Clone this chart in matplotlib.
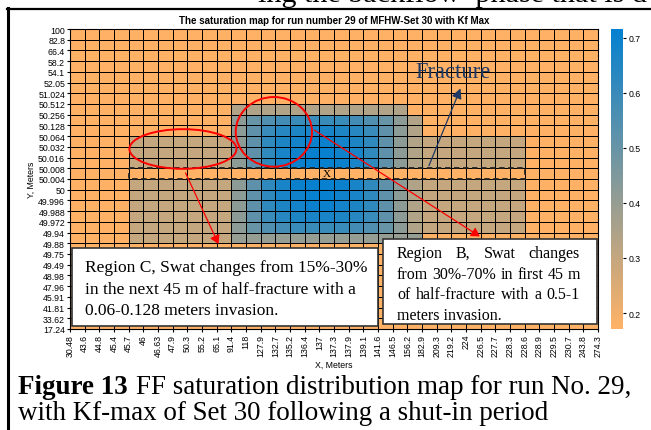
import numpy as np
import matplotlib.pyplot as plt
from matplotlib.colors import LinearSegmentedColormap
from matplotlib.patches import Ellipse, Rectangle, FancyArrowPatch

W, H = 651, 431

# grid edge labels (cell boundaries)
x_edges = ["30.48", "43.6", "44.8", "45.4", "45.7", "46", "46.63", "47.9", "50.3", "55.2",
           "65.1", "91.4", "118", "127.9", "132.7", "135.2", "136.4", "137", "137.3", "137.9",
           "139.1", "141.6", "146.5", "156.2", "182.9", "209.3", "219.2", "224", "226.5",
           "227.7", "228.3", "228.6", "228.9", "229.5", "230.7", "243.8", "274.3"]
y_edges = ["100", "82.8", "66.4", "58.2", "54.1", "52.05", "51.024", "50.512", "50.256",
           "50.128", "50.064", "50.032", "50.016", "50.008", "50.004", "50", "49.996",
           "49.988", "49.972", "49.94", "49.88", "49.75", "49.49", "48.98", "47.96", "45.91",
           "41.81", "33.62", "17.24"]

# water saturation per cell, top row first (28 rows x 36 columns)
b = .17
sw = [
    [b]*36,
    [b]*36,
    [b]*36,
    [b]*36,
    [b]*36,
    [b]*36,
    [b]*36,
    [b]*11 + [.34]*12 + [b]*13,
    [b]*11 + [.42, .50, .55, .58, .60, .60, .60, .60, .58, .55, .50, .42, .34] + [b]*12,
    [b]*11 + [.42, .52, .60, .64, .66, .67, .67, .66, .64, .60, .52, .42, .34] + [b]*12,
    [b]*4 + [.30]*7 + [.42, .52, .62, .66, .68, .70, .70, .68, .66, .62, .52, .42, .34] + [.30]*7 + [b]*5,
    [b]*4 + [.30]*7 + [.42, .52, .62, .67, .69, .71, .71, .69, .67, .62, .52, .42, .34] + [.30]*7 + [b]*5,
    [b]*4 + [.30]*7 + [.42, .52, .62, .67, .70, .71, .71, .70, .67, .62, .52, .42, .34] + [.30]*7 + [b]*5,
    [b]*36,
    [b]*4 + [.30]*7 + [.42, .52, .62, .67, .70, .71, .71, .70, .67, .62, .52, .42, .34] + [.30]*7 + [b]*5,
    [b]*4 + [.30]*7 + [.42, .52, .62, .67, .69, .71, .71, .69, .67, .62, .52, .42, .34] + [.30]*7 + [b]*5,
    [b]*4 + [.30]*7 + [.42, .52, .62, .66, .68, .70, .70, .68, .66, .62, .52, .42, .34] + [.30]*7 + [b]*5,
    [b]*4 + [.30]*7 + [.42, .52, .60, .64, .66, .67, .67, .66, .64, .60, .52, .42, .34] + [.30]*7 + [b]*5,
    [b]*4 + [.30]*7 + [.42, .50, .55, .58, .60, .60, .60, .60, .58, .55, .50, .42, .34] + [.30]*7 + [b]*5,
    [b]*4 + [.30]*7 + [.40]*13 + [b]*12,
    [b]*36,
    [b]*36,
    [b]*36,
    [b]*36,
    [b]*36,
    [b]*36,
    [b]*36,
    [b]*36,
]
sw = np.array(sw)

cmap = LinearSegmentedColormap.from_list("sat", ["#FFB266", "#0480D0"])

fig = plt.figure(figsize=(W/100, H/100), dpi=100)
plt.rcParams['font.family'] = ['Liberation Sans']
renderer = fig.canvas.get_renderer()

def fx(x): return x/W
def fy(y): return 1 - y/H

def fitted(text, x0, x1, y, **kw):
    # scale the font so the text runs from x0 to x1 (pixels)
    t = fig.text(fx(x0), fy(y), text, fontsize=10, **kw)
    w = t.get_window_extent(renderer).width
    t.set_fontsize(10 * (x1 - x0) / w)
    return t

ax = fig.add_axes([fx(70), fy(330), 528/W, 300/H])
mesh = ax.pcolormesh(np.arange(37), np.arange(29), sw, cmap=cmap, vmin=0.171, vmax=0.716,
                     edgecolors='k', linewidth=0.6)
ax.set_xlim(0, 36)
ax.set_ylim(28, 0)
ax.set_xticks(np.arange(37))
ax.set_xticklabels(x_edges, rotation=90, fontsize=6.3)
ax.set_yticks(np.arange(29))
ax.set_yticklabels(y_edges, fontsize=6.3)
ax.tick_params(length=2, pad=1.5)
ax.set_xlabel("X, Meters", fontsize=6.3, labelpad=3)
ax.set_ylabel("Y, Meters", fontsize=6.3, labelpad=2)
ax.set_title("The saturation map for run number 29 of MFHW-Set 30 with Kf Max",
             fontsize=7, fontweight='bold', pad=4)

cax = fig.add_axes([fx(611), fy(330), 12/W, 300/H])
cb = fig.colorbar(mesh, cax=cax)
cb.set_ticks([0.2, 0.3, 0.4, 0.5, 0.6, 0.7])
cb.ax.tick_params(labelsize=6.3, length=2, pad=2)
cb.outline.set_visible(False)

# fracture trace
ax.add_patch(Rectangle((4, 13), 27, 1, fill=False, ls=(0, (3, 2)), lw=1.3, ec='#222222'))
ax.text(17.5, 13.5, "X", ha='center', va='center', fontsize=8, family='Liberation Serif')

# regions of interest
ax.add_patch(Ellipse((7.7, 11.2), 7.3, 3.7, fill=False, ec='red', lw=1.4, clip_on=False))
ax.add_patch(Ellipse((13.9, 9.6), 5.2, 6.5, fill=False, ec='red', lw=1.4, clip_on=False))
ax.add_patch(FancyArrowPatch((7.8, 13.2), (10.2, 20.3), arrowstyle='-|>,head_length=5,head_width=3',
                             color='red', lw=0.9, clip_on=False))
ax.add_patch(FancyArrowPatch((16.5, 9.3), (28.1, 19.5), arrowstyle='-|>,head_length=5,head_width=3',
                             color='red', lw=0.9, clip_on=False))
ax.add_patch(FancyArrowPatch((24.4, 13.0), (26.7, 5.3), arrowstyle='-|>,head_length=6,head_width=3',
                             color='#1F3864', lw=0.9, clip_on=False))
fitted("Fracture", 415, 490, 72, color='#1F3864', family='Liberation Serif', va='center')

# note boxes
ax.add_patch(Rectangle((0.14, 20.45), 20.86, 7.3, fc='white', ec='#333333', lw=1.2,
                       clip_on=False, zorder=5))
ax.add_patch(Rectangle((21.34, 19.6), 14.6, 7.9, fc='white', ec='#333333', lw=1.2,
                       clip_on=False, zorder=5))

serif = dict(family='Liberation Serif', va='center', zorder=6)
box_c = ["Region C, Swat changes from 15%-30%",
         "in the next 45 m of half-fracture with a",
         "0.06-0.128 meters invasion."]
size_c = fitted(box_c[0], 85, 366, 268, **serif).get_fontsize()
for i, line in enumerate(box_c[1:], 1):
    fig.text(fx(85), fy(268 + 21.5*i), line, fontsize=size_c, **serif)

def justify(words, x0, x1, y, size):
    texts = [fig.text(0, fy(y), w, fontsize=size, **serif) for w in words]
    widths = [t.get_window_extent(renderer).width for t in texts]
    gap = (x1 - x0 - sum(widths)) / max(len(words) - 1, 1)
    x = x0
    for t, w in zip(texts, widths):
        t.set_x(fx(x))
        x += w + gap

box_b = ["Region B, Swat changes", "from 30%-70% in first 45 m", "of half-fracture with a 0.5-1"]
for i, line in enumerate(box_b):
    justify(line.split(), 397, 580, 254 + 20.7*i, 11.5)
fig.text(fx(397), fy(254 + 20.7*3), "meters invasion.", fontsize=11.5, **serif)

# page furniture around the figure
fig.add_artist(plt.Line2D([fx(7.5), fx(7.5)], [fy(9), 0], color='k', lw=2.2))
fig.add_artist(plt.Line2D([fx(6.5), 1], [fy(10), fy(10)], color='k', lw=1.6))
top = fitted("ing the backflow  phase that is d", 258, 648, 2,
             family='Liberation Serif', va='baseline')

# caption: bold label plus text on one line, second line at the same size
cap = dict(family='Liberation Serif', va='center')
head = fig.text(fx(18), fy(388), "Figure 13", fontsize=10, fontweight='bold', **cap)
rest = fig.text(fx(18), fy(388), "FF saturation distribution map for run No. 29,", fontsize=10, **cap)
hw = head.get_window_extent(renderer).width
rw = rest.get_window_extent(renderer).width
gap = 8
size_cap = 10 * (632 - 18 - gap) / (hw + rw)
head.set_fontsize(size_cap)
rest.set_fontsize(size_cap)
rest.set_x(fx(18 + hw * size_cap / 10 + gap))
fig.text(fx(18), fy(414), "with Kf-max of Set 30 following a shut-in period",
         fontsize=size_cap, **cap)

fig.savefig("out.png", dpi=100)
